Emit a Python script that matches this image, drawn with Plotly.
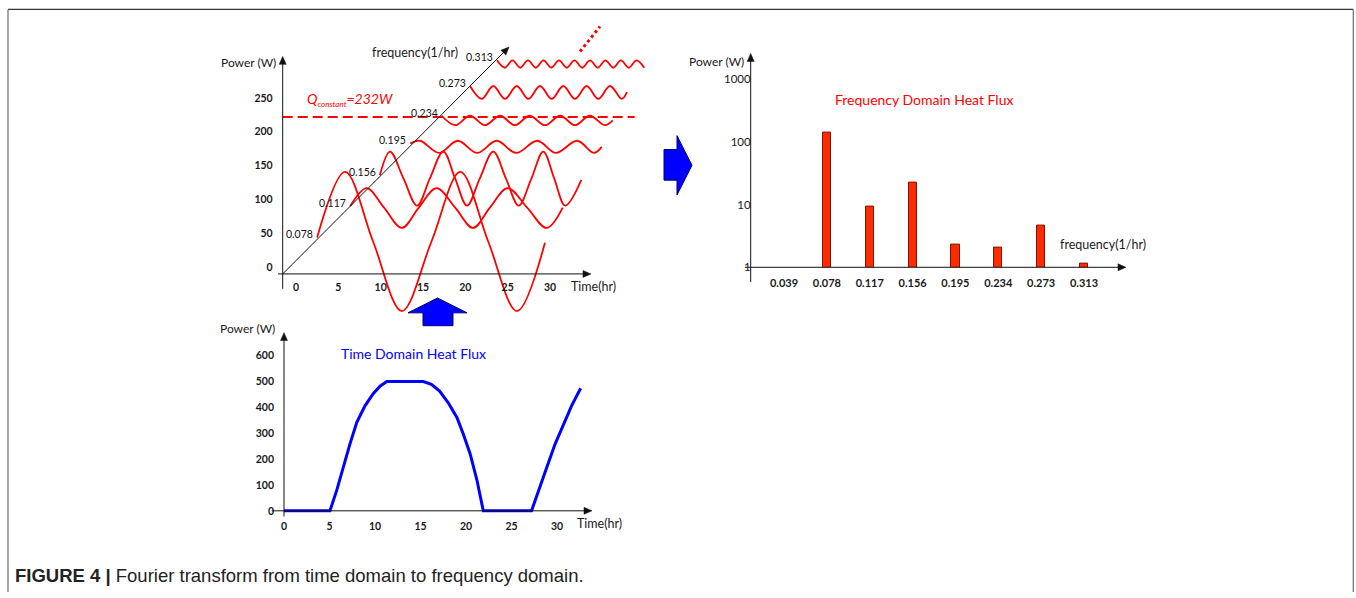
import math
import plotly.graph_objects as go

W, H = 1356, 598


def fx(x):
    """pixel column -> paper x"""
    return x / W


def fy(y):
    """pixel row -> paper y"""
    return 1 - y / H


FONT = "Lato, Carlito, Calibri, sans-serif"
RED = "#ff0000"
BLUE = "#0000ff"

# ---------------- frequency components ----------------
freq_labels = ["0.039", "0.078", "0.117", "0.156", "0.195", "0.234", "0.273", "0.313"]
spectrum_power = [None, 141, 9.4, 22.6, 2.3, 2.1, 4.55, 1.13]

# constant part of the heat flux (W)
q_constant = 232

# ---------------- harmonic waves stacked along the frequency axis ----------------
wave_078_t = [2.5, 5.8, 9.1, 12.5, 16.0, 19.4, 22.7, 26.1, 29.4]
wave_078_p = [54, 151, 48, -55, 48, 151, 48, -55, 46]

wave_117_t = [6.4, 8.35, 10.4, 12.5, 14.5, 16.6, 18.8, 20.9, 22.9, 25.0, 27.3, 29.6, 31.5]
wave_117_p = [100, 127, 98, 68, 98, 127, 98, 68, 98, 127, 98, 68, 98]

wave_156_t = [9.9, 11.1, 12.7, 14.3, 15.8, 17.4, 18.8, 20.2, 21.7, 23.3, 24.8, 26.3,
              27.8, 29.2, 30.5, 31.8, 33.7]
wave_156_p = [146, 181, 141, 101, 141, 181, 141, 101, 141, 181, 141, 101,
              141, 181, 141, 101, 139]

wave_195_t = [13.5, 14.65, 16.9, 19.1, 21.4, 23.7, 26.0, 28.5, 30.7, 33.2, 35.2, 36.1]
wave_195_p = [193, 197, 179, 197, 179, 197, 179, 197, 179, 197, 179, 188]

wave_234_t = [17.2, 18.8, 20.55, 22.3, 24.1, 25.85, 27.6, 29.4, 31.2, 32.95, 34.7, 36.5, 37.4]
wave_234_p = [234, 220, 234, 220, 234, 220, 234, 220, 234, 220, 234, 220, 227]

wave_273_t = [20.55, 21.93, 23.30, 24.68, 26.07, 27.44, 28.82, 30.20, 31.57, 32.95,
              34.33, 35.70, 37.09, 38.47, 39.09]
wave_273_p = [278, 259, 278, 259, 278, 259, 278, 259, 278, 259, 278, 259, 278, 259, 269]

wave_313_t = [23.74, 24.66, 25.57, 26.49, 27.40, 28.32, 29.23, 30.15, 31.06, 31.98,
              32.89, 33.81, 34.72, 35.64, 36.55, 37.47, 38.38, 39.30, 40.22, 41.13]
wave_313_p = [316, 305, 316, 305, 316, 305, 316, 305, 316, 305,
              316, 305, 316, 305, 316, 305, 316, 305, 316, 305]

waves = [
    ("0.078", wave_078_t, wave_078_p),
    ("0.117", wave_117_t, wave_117_p),
    ("0.156", wave_156_t, wave_156_p),
    ("0.195", wave_195_t, wave_195_p),
    ("0.234", wave_234_t, wave_234_p),
    ("0.273", wave_273_t, wave_273_p),
    ("0.313", wave_313_t, wave_313_p),
]

# ---------------- time-domain heat flux ----------------
time_hr = [0, 5.05, 5.8, 6.5, 7.25, 8.0, 8.9, 9.8, 10.55, 11.3, 15.3, 16.2, 17.1, 18.05,
           19.0, 19.7, 20.45, 21.2, 21.9, 27.2, 28.1, 28.9, 29.8, 30.7, 31.6, 32.6]
time_power = [0, 0, 80, 170, 259, 342, 406, 453, 482, 500, 500, 489, 463, 418,
              361, 297, 221, 119, 0, 0, 93, 170, 259, 335, 406, 474]

# ticks
wave_time_ticks = [0, 5, 10, 15, 20, 25, 30]
wave_power_ticks = [0, 50, 100, 150, 200, 250]
flux_time_ticks = [0, 5, 10, 15, 20, 25, 30]
flux_power_ticks = [0, 100, 200, 300, 400, 500, 600]
spectrum_ticks = [1, 10, 100, 1000]

fig = go.Figure()

# harmonic waves
for label, t, p in waves:
    fig.add_trace(go.Scatter(
        x=t, y=p, mode="lines", line=dict(color=RED, width=1.8, shape="spline"),
        xaxis="x", yaxis="y", showlegend=False, hoverinfo="skip"))

# time-domain curve
fig.add_trace(go.Scatter(
    x=time_hr, y=time_power, mode="lines", line=dict(color=BLUE, width=3),
    xaxis="x2", yaxis="y2", showlegend=False))

# spectrum bars
fig.add_trace(go.Bar(
    x=freq_labels, y=spectrum_power, width=0.19,
    marker=dict(color="#ff2a00", line=dict(color="#7a1800", width=1)),
    xaxis="x3", yaxis="y3", showlegend=False))

bold_tick = dict(family=FONT, size=10.5, color="#1a1a1a", weight="bold")
hidden = dict(showgrid=False, zeroline=False, showline=False, ticks="")

fig.update_layout(
    width=W, height=H, autosize=False,
    margin=dict(l=0, r=0, t=0, b=0),
    paper_bgcolor="white", plot_bgcolor="rgba(0,0,0,0)",
    xaxis=dict(domain=[fx(262), fx(660)], range=[-4.016, 42.99], anchor="free",
               position=fy(276.7), tickvals=wave_time_ticks, tickfont=bold_tick,
               ticklabelstandoff=6, **hidden),
    yaxis=dict(domain=[fy(322), fy(20)], range=[-66.34, 375.95], anchor="free",
               position=fx(282.7), tickvals=wave_power_ticks, tickfont=bold_tick,
               ticklabelstandoff=10, ticklabelshift=-7, **hidden),
    xaxis2=dict(domain=[fx(270), fx(600)], range=[-1.538, 34.725], anchor="free",
                position=fy(516), tickvals=flux_time_ticks, tickfont=bold_tick,
                ticklabelstandoff=8, **hidden),
    yaxis2=dict(domain=[fy(524), fy(330)], range=[-30.6, 712.1], anchor="free",
                position=fx(284), tickvals=flux_power_ticks, tickfont=bold_tick,
                ticklabelstandoff=10, **hidden),
    xaxis3=dict(domain=[fx(750), fx(1130)], type="category", range=[-0.793, 8.073],
                anchor="y3", tickfont=dict(family=FONT, size=11, color="#1a1a1a", weight="bold"),
                ticklabelstandoff=8, **hidden),
    yaxis3=dict(domain=[fy(270), fy(40)], type="log", range=[0, 3.6335], anchor="free",
                position=fx(750.7), tickvals=spectrum_ticks,
                ticktext=[str(v) for v in spectrum_ticks],
                tickfont=dict(family=FONT, size=11.5, color="#1a1a1a"),
                ticklabelstandoff=0, **hidden),
    bargap=0,
)

shapes = []
# frame
for x0, y0, x1, y1, c in [(8, 9.5, 1353.3, 9.5, "#333333"), (8, 9.5, 8, 598, "#777777"),
                          (1353.3, 9.5, 1353.3, 598, "#777777")]:
    shapes.append(dict(type="line", xref="paper", yref="paper", x0=fx(x0), y0=fy(y0),
                       x1=fx(x1), y1=fy(y1), line=dict(color=c, width=1.3)))

# constant heat flux line
shapes.append(dict(type="line", xref="x", yref="y", x0=-1.57, x1=40.0, y0=q_constant,
                   y1=q_constant, line=dict(color=RED, width=2, dash="10px,5px")))
# continuation dots beyond the last harmonic
shapes.append(dict(type="line", xref="x", yref="y", x0=33.54, y0=329, x1=35.9, y1=366,
                   line=dict(color=RED, width=3, dash="dot")))


def polygon(points, fill, edge, width=1):
    d = "M " + " L ".join(f"{fx(x):.5f},{fy(y):.5f}" for x, y in points) + " Z"
    return dict(type="path", xref="paper", yref="paper", path=d,
                fillcolor=fill, line=dict(color=edge, width=width))


def axis_arrow(xt, yt, xh, yh, head=8, half=3.5):
    """axis line from tail to head (pixels) ending in a filled arrowhead"""
    L = math.hypot(xh - xt, yh - yt)
    ux, uy = (xh - xt) / L, (yh - yt) / L
    nx, ny = -uy, ux
    shapes.append(dict(type="line", xref="paper", yref="paper",
                       x0=fx(xt), y0=fy(yt), x1=fx(xh - ux * (head - 2)), y1=fy(yh - uy * (head - 2)),
                       line=dict(color="#111111", width=1)))
    bx, by = xh - ux * head, yh - uy * head
    shapes.append(polygon([(xh, yh), (bx + nx * half, by + ny * half),
                           (bx - nx * half, by - ny * half)], "#111111", "#111111", 0.5))


# top-left axes (power, time, frequency)
axis_arrow(282.7, 291.7, 282.7, 57)
axis_arrow(278, 276.7, 591, 276.7)
axis_arrow(282.7, 276.7, 509, 47.5)
# bottom-left axes
axis_arrow(284, 521.7, 284, 336)
axis_arrow(271.7, 516, 592, 516)
# right axes
axis_arrow(750.7, 285, 750.7, 54)
axis_arrow(745, 270, 1126, 270)

# block arrows
shapes.append(polygon([(423, 329), (423, 316), (408, 316), (437.5, 301),
                       (467, 316), (453, 316), (453, 329)], BLUE, "#00007a"))
shapes.append(polygon([(664, 151), (677, 151), (677, 137), (692, 167),
                       (677, 197), (677, 182), (664, 182)], BLUE, "#00007a"))
fig.update_layout(shapes=shapes)

ann = []


def text(x, y, s, size=12.5, color="#1a1a1a", anchor="left", **kw):
    ann.append(dict(xref="paper", yref="paper", x=fx(x), y=fy(y), text=s, showarrow=False,
                    xanchor=anchor, yanchor="middle",
                    font=dict(family=FONT, size=size, color=color, **kw)))


text(278.3, 62.7, "Power (W)", anchor="right", size=12)
text(415, 52.7, "frequency(1/hr)", anchor="center", size=12.5)
text(569, 289.3, "Time(hr)", size=12.5)
text(305, 101,
     f"<i>Q<sub><span style='font-size:8px'>constant</span></sub>={q_constant}W</i>",
     color=RED, size=14)

text(218.3, 331.7, "Power (W)", size=12)
text(413.7, 356.7, "Time Domain Heat Flux", anchor="center", color=BLUE, size=14)
text(575, 529, "Time(hr)", size=12.5)

text(746, 62.3, "Power (W)", anchor="right", size=12)
text(923.7, 101, "Frequency Domain Heat Flux", anchor="center", color=RED, size=14)
text(1058, 246.7, "frequency(1/hr)", size=12.5)

# frequency labels at the start of each harmonic
for label, t, p in waves:
    ann.append(dict(xref="x", yref="y", x=t[0], y=p[0], text=label, showarrow=False,
                    xanchor="right", yanchor="middle", xshift=-2, yshift=3,
                    font=dict(family=FONT, size=10.5, color="#111111")))

# caption
ann.append(dict(xref="paper", yref="paper", x=fx(13), y=fy(581), xanchor="left",
                yanchor="middle", showarrow=False,
                text="<b>FIGURE 4 |</b> Fourier transform from time domain to frequency domain.",
                font=dict(family="Liberation Sans Narrow, Arial Narrow, Liberation Sans, sans-serif",
                          size=18.5, color="#222222")))

fig.update_layout(annotations=ann)

fig.write_html("out.html")
